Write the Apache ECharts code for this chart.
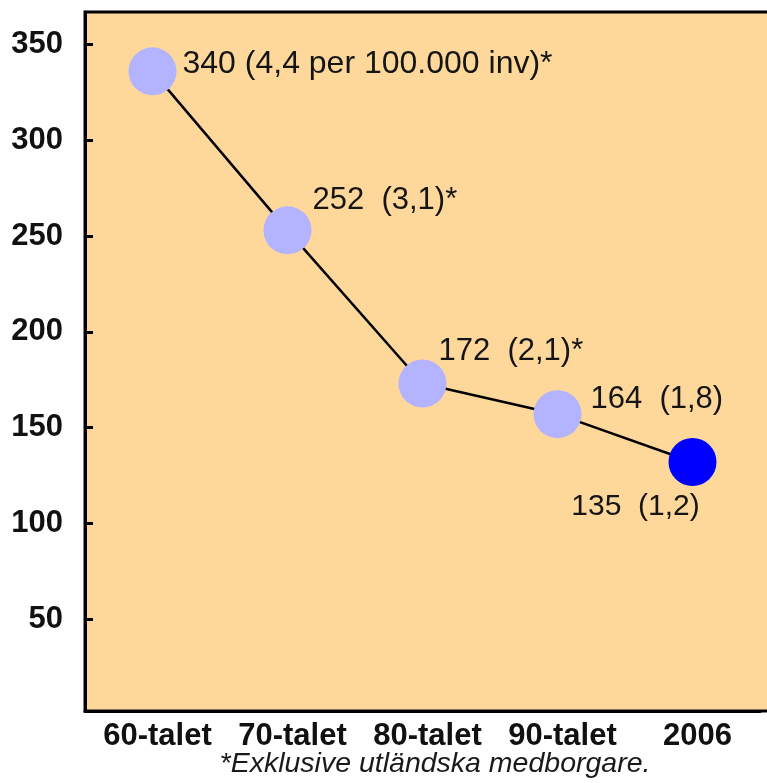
<!DOCTYPE html>
<html>
<head>
<meta charset="utf-8">
<script src="https://cdn.jsdelivr.net/npm/echarts@6/dist/echarts.min.js"></script>
<style>html,body{margin:0;padding:0;background:#fff}#c{width:767px;height:783px}</style>
</head>
<body>
<div id="c"></div>
<script>
const categories = ['60-talet', '70-talet', '80-talet', '90-talet', '2006'];
const values = [336, 253, 173, 157, 132];
const pointLabels = ['340 (4,4 per 100.000 inv)*', '252  (3,1)*', '172  (2,1)*', '164  (1,8)', '135  (1,2)'];
const yTicks = [50, 100, 150, 200, 250, 300, 350];
const footnote = '*Exklusive utländska medborgare.';

const chart = echarts.init(document.getElementById('c'), null, {renderer: 'canvas'});
const FONT = 'Liberation Sans, Arial, Helvetica, sans-serif';
const labelFont = {fontFamily: FONT, fontSize: 31, color: '#151515'};
const placement = [
  {position: 'right', distance: 0, offset: [6, -7], fontSize: 32},
  {position: 'right', distance: 0, offset: [1, -30]},
  {position: 'right', distance: 0, offset: [-8, -32]},
  {position: 'right', distance: 0, offset: [9, -15]},
  {position: 'bottom', distance: 0, offset: [-57, 6], fontSize: 30}
];
const data = values.map((v, i) => ({
  value: v,
  itemStyle: {color: i === values.length - 1 ? '#0000FF' : '#B3B3FF'},
  label: Object.assign({show: true, formatter: pointLabels[i]}, labelFont, placement[i])
}));

chart.setOption({
  animation: false,
  backgroundColor: '#ffffff',
  title: {
    text: footnote, left: 435, textAlign: 'center', top: 750, padding: 0,
    textStyle: {fontFamily: FONT, fontStyle: 'italic', fontWeight: 'normal', fontSize: 28.5, color: '#1a1a1a'}
  },
  graphic: [{
    type: 'rect', z: -10, silent: true,
    shape: {x: 85, y: 12, width: 720, height: 699},
    style: {fill: '#FED89B', stroke: '#000', lineWidth: 3}
  }],
  grid: {left: 85, top: 12, width: 675, bottom: 72, containLabel: false},
  xAxis: {
    type: 'category', data: categories, boundaryGap: true,
    axisLine: {show: true, lineStyle: {color: '#000', width: 3}},
    axisTick: {show: false},
    axisLabel: {interval: 0, hideOverlap: false, margin: 10, padding: [0, 0, 0, 10], fontFamily: FONT, fontWeight: 'bold', fontSize: 31, color: '#111'}
  },
  yAxis: {
    type: 'value', min: 2, max: 367,
    axisLine: {show: true, lineStyle: {color: '#000', width: 3}},
    axisTick: {show: true, inside: true, length: 8, lineStyle: {color: '#000', width: 3}, customValues: yTicks},
    axisLabel: {margin: 22, customValues: yTicks, fontFamily: FONT, fontWeight: 'bold', fontSize: 31, color: '#111'},
    splitLine: {show: false}
  },
  series: [{
    type: 'line', data: data,
    symbol: 'circle', symbolSize: 48,
    lineStyle: {color: '#000', width: 2.5},
    z: 2
  }]
});
</script>
</body>
</html>
